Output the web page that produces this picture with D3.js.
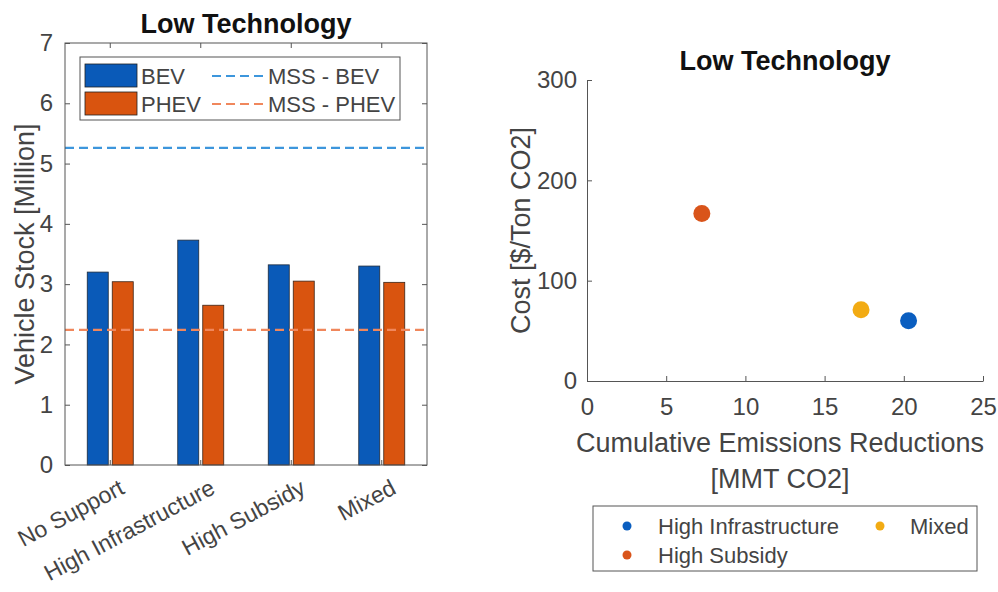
<!DOCTYPE html>
<html>
<head>
<meta charset="utf-8">
<script src="https://cdn.jsdelivr.net/npm/d3@7"></script>
<style>
  body { margin: 0; background: #fff; }
  text { font-family: "Liberation Sans", Arial, sans-serif; }
</style>
</head>
<body>
<script>
// bar chart data
const scenarios = ['No Support', 'High Infrastructure', 'High Subsidy', 'Mixed'];
const bevStock = [3.20, 3.73, 3.32, 3.30];
const phevStock = [3.04, 2.65, 3.05, 3.03];
const mssBev = 5.26;
const mssPhev = 2.24;
const stockTicks = [0, 1, 2, 3, 4, 5, 6, 7];

// scatter data
const policyNames = ['High Infrastructure', 'High Subsidy', 'Mixed'];
const emissionsReduction = [20.3, 7.25, 17.3];
const costPerTon = [60, 167, 71];
const emissionTicks = [0, 5, 10, 15, 20, 25];
const costTicks = [0, 100, 200, 300];

const width = 998, height = 592;
const axisColor = '#555';
const labelColor = '#444';
const blue = '#0a5ab8', orange = '#d9540f';
const dashBlue = '#3d96dc', dashOrange = '#f0875c';
const dotColors = ['#0a5ec0', '#d9541a', '#f2ab13'];
const tickFont = '24px', catFont = '23px', labelFont = '27px', titleFont = '27px', legendFont = '22px';

const svg = d3.select('body').append('svg')
    .attr('width', width)
    .attr('height', height);

// ---------- left: grouped bars ----------
const m1 = { left: 65, right: 427, top: 43, bottom: 465 };

const x0 = d3.scaleBand()
    .domain(scenarios)
    .range([m1.left, m1.right]);

const y1 = d3.scaleLinear()
    .domain([0, 7])
    .range([m1.bottom, m1.top]);

const barW = 21, barGap = 4;

const left = svg.append('g');

const groups = left.selectAll('.group')
    .data(scenarios.map((s, i) => ({ name: s, bev: bevStock[i], phev: phevStock[i] })))
    .join('g')
    .attr('class', 'group')
    .attr('transform', d => 'translate(' + (x0(d.name) + x0.bandwidth() / 2) + ' 0)');

groups.append('rect')
    .attr('x', -barW - barGap / 2)
    .attr('y', d => y1(d.bev))
    .attr('width', barW)
    .attr('height', d => y1(0) - y1(d.bev))
    .attr('fill', blue)
    .attr('stroke', '#1e2a3a')
    .attr('stroke-width', 0.8);

groups.append('rect')
    .attr('x', barGap / 2)
    .attr('y', d => y1(d.phev))
    .attr('width', barW)
    .attr('height', d => y1(0) - y1(d.phev))
    .attr('fill', orange)
    .attr('stroke', '#3a2418')
    .attr('stroke-width', 0.8);

// MSS reference lines
[[mssBev, dashBlue], [mssPhev, dashOrange]].forEach(([v, c]) => {
    left.append('line')
        .attr('x1', m1.left).attr('x2', m1.right)
        .attr('y1', y1(v)).attr('y2', y1(v))
        .attr('stroke', c)
        .attr('stroke-width', 2.2)
        .attr('stroke-dasharray', '9 5');
});

// box + axes
left.append('rect')
    .attr('x', m1.left).attr('y', m1.top)
    .attr('width', m1.right - m1.left).attr('height', m1.bottom - m1.top)
    .attr('fill', 'none')
    .attr('stroke', axisColor)
    .attr('stroke-width', 1);

const yAxis1 = left.append('g')
    .attr('transform', 'translate(' + m1.left + ' 0)')
    .call(d3.axisLeft(y1).tickValues(stockTicks).tickFormat(d3.format('d')).tickSize(-5).tickPadding(12));
yAxis1.select('.domain').remove();

const yAxis1r = left.append('g')
    .attr('transform', 'translate(' + m1.right + ' 0)')
    .call(d3.axisRight(y1).tickValues(stockTicks).tickSize(-5).tickFormat(''));
yAxis1r.select('.domain').remove();

const xTop = left.append('g')
    .attr('transform', 'translate(0 ' + m1.top + ')')
    .call(d3.axisBottom(x0).tickSize(5).tickFormat(''));
xTop.select('.domain').remove();

const xBottom = left.append('g')
    .attr('transform', 'translate(0 ' + m1.bottom + ')')
    .call(d3.axisTop(x0).tickSize(5).tickFormat(''));
xBottom.select('.domain').remove();

[yAxis1, yAxis1r, xTop, xBottom].forEach(a => {
    a.selectAll('line').attr('stroke', axisColor);
    a.selectAll('text').attr('fill', labelColor).style('font-size', tickFont);
});

// rotated category labels
left.selectAll('.catLabel')
    .data(scenarios)
    .join('text')
    .attr('class', 'catLabel')
    .attr('transform', d => 'translate(' + (x0(d) + x0.bandwidth() / 2 + 8) + ' ' + (m1.bottom + 13) + ') rotate(-28)')
    .attr('text-anchor', 'end')
    .attr('dy', '0.72em')
    .attr('fill', labelColor)
    .style('font-size', catFont)
    .text(d => d);

left.append('text')
    .attr('transform', 'translate(34 ' + ((m1.top + m1.bottom) / 2) + ') rotate(-90)')
    .attr('text-anchor', 'middle')
    .attr('fill', labelColor)
    .style('font-size', labelFont)
    .text('Vehicle Stock [Million]');

left.append('text')
    .attr('x', 246)
    .attr('y', 33)
    .attr('text-anchor', 'middle')
    .attr('fill', '#111')
    .style('font-size', titleFont)
    .style('font-weight', 'bold')
    .text('Low Technology');

// legend
const lg = left.append('g');
lg.append('rect')
    .attr('x', 80).attr('y', 57).attr('width', 320).attr('height', 63)
    .attr('fill', '#fff').attr('stroke', axisColor);
const legendRows = [
    { label: 'BEV', color: blue, dash: dashBlue, mss: 'MSS - BEV' },
    { label: 'PHEV', color: orange, dash: dashOrange, mss: 'MSS - PHEV' }
];
legendRows.forEach((r, i) => {
    const cy = 76 + i * 28;
    lg.append('rect')
        .attr('x', 85).attr('y', cy - 12).attr('width', 52).attr('height', 23)
        .attr('fill', r.color).attr('stroke', '#222').attr('stroke-width', 0.8);
    lg.append('text')
        .attr('x', 141).attr('y', cy).attr('dy', '0.36em')
        .attr('fill', labelColor).style('font-size', legendFont)
        .text(r.label);
    lg.append('line')
        .attr('x1', 212).attr('x2', 266).attr('y1', cy).attr('y2', cy)
        .attr('stroke', r.dash).attr('stroke-width', 2.2)
        .attr('stroke-dasharray', '9 5');
    lg.append('text')
        .attr('x', 268).attr('y', cy).attr('dy', '0.36em')
        .attr('fill', labelColor).style('font-size', legendFont)
        .text(r.mss);
});

// ---------- right: scatter ----------
const m2 = { left: 587, right: 983, top: 80, bottom: 381 };

const x2 = d3.scaleLinear().domain([0, 25]).range([m2.left, m2.right]);
const y2 = d3.scaleLinear().domain([0, 300]).range([m2.bottom, m2.top]);

const right = svg.append('g');

const xAxis2 = right.append('g')
    .attr('transform', 'translate(0 ' + m2.bottom + ')')
    .call(d3.axisBottom(x2).tickValues(emissionTicks).tickSize(-5).tickPadding(17).tickSizeOuter(0));
const yAxis2 = right.append('g')
    .attr('transform', 'translate(' + m2.left + ' 0)')
    .call(d3.axisLeft(y2).tickValues(costTicks).tickSize(-5).tickPadding(10).tickSizeOuter(0));

[xAxis2, yAxis2].forEach(a => {
    a.selectAll('line').attr('stroke', axisColor);
    a.select('.domain').attr('stroke', axisColor);
    a.selectAll('text').attr('fill', labelColor).style('font-size', tickFont);
});

right.selectAll('.dot')
    .data(policyNames.map((n, i) => ({ name: n, x: emissionsReduction[i], y: costPerTon[i], c: dotColors[i] })))
    .join('circle')
    .attr('class', 'dot')
    .attr('cx', d => x2(d.x))
    .attr('cy', d => y2(d.y))
    .attr('r', 8.5)
    .attr('fill', d => d.c);

right.append('text')
    .attr('x', 785)
    .attr('y', 70)
    .attr('text-anchor', 'middle')
    .attr('fill', '#111')
    .style('font-size', titleFont)
    .style('font-weight', 'bold')
    .text('Low Technology');

right.append('text')
    .attr('x', 780).attr('y', 452)
    .attr('text-anchor', 'middle')
    .attr('fill', labelColor)
    .style('font-size', labelFont)
    .text('Cumulative Emissions Reductions');
right.append('text')
    .attr('x', 780).attr('y', 488)
    .attr('text-anchor', 'middle')
    .attr('fill', labelColor)
    .style('font-size', labelFont)
    .text('[MMT CO2]');

right.append('text')
    .attr('transform', 'translate(530 ' + ((m2.top + m2.bottom) / 2) + ') rotate(-90)')
    .attr('text-anchor', 'middle')
    .attr('fill', labelColor)
    .style('font-size', labelFont)
    .text('Cost [$/Ton CO2]');

// scatter legend
const lg2 = right.append('g');
lg2.append('rect')
    .attr('x', 593).attr('y', 506).attr('width', 384).attr('height', 65)
    .attr('fill', '#fff').attr('stroke', axisColor);
const legendPos = [
    { x: 627, tx: 658, y: 526 },
    { x: 627, tx: 658, y: 555 },
    { x: 880, tx: 910, y: 526 }
];
policyNames.forEach((n, i) => {
    const p = legendPos[i];
    lg2.append('circle')
        .attr('cx', p.x).attr('cy', p.y).attr('r', 4.5)
        .attr('fill', dotColors[i]);
    lg2.append('text')
        .attr('x', p.tx).attr('y', p.y).attr('dy', '0.36em')
        .attr('fill', labelColor).style('font-size', legendFont)
        .text(n);
});
</script>
</body>
</html>
